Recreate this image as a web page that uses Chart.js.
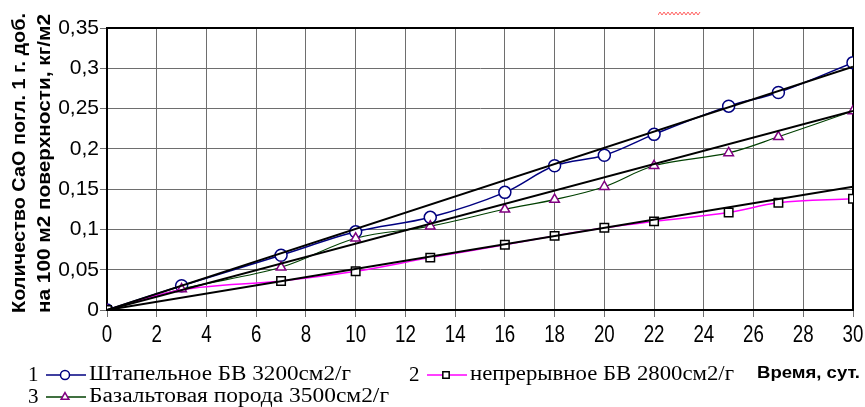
<!DOCTYPE html>
<html>
<head>
<meta charset="utf-8">
<script src="https://cdn.jsdelivr.net/npm/chart.js@4/dist/chart.umd.min.js"></script>
<style>
  body { margin: 0; background: #fff; }
  #wrap { position: relative; width: 865px; height: 407px; }
</style>
</head>
<body>
<div id="wrap">
  <canvas id="myChart" width="865" height="407"></canvas>
  <svg style="position:absolute; left:658px; top:11px;" width="44" height="6"><polyline points="0,4 2,1 4,4 6,1 8,4 10,1 12,4 14,1 16,4 18,1 20,4 22,1 24,4 26,1 28,4 30,1 32,4 34,1 36,4 38,1 40,4 42,1" fill="none" stroke="#ff6060" stroke-width="1"/></svg>
</div>
<script>
// measured days
const days = [0, 3, 7, 10, 13, 16, 18, 20, 22, 25, 27, 30];
const shtapel = [0, 0.030, 0.068, 0.097, 0.115, 0.146, 0.179, 0.192, 0.218, 0.253, 0.270, 0.307];
const nepreryv = [0, 0.025, 0.036, 0.048, 0.065, 0.081, 0.092, 0.102, 0.110, 0.121, 0.133, 0.138];
const bazalt = [0, 0.026, 0.053, 0.089, 0.104, 0.125, 0.137, 0.153, 0.179, 0.195, 0.215, 0.247];

// linear trend lines (through origin)
const trendDays = [0, 30];
const trendShtapel = [0, 0.302];
const trendNepreryv = [0, 0.153];
const trendBazalt = [0, 0.247];

const yTitle = ["Количество СаО погл. 1 г. доб.", "на 100 м2 поверхности, кг/м2"];
const xTitle = "Время, сут.";
const seriesNames = ["Штапельное БВ 3200см2/г", "непрерывное БВ 2800см2/г", "Базальтовая порода 3500см2/г"];

const toPoints = (xs, ys) => xs.map((x, i) => ({ x: x, y: ys[i] }));

const trend = (ys) => ({
  data: toPoints(trendDays, ys),
  borderColor: "#000",
  borderWidth: 2,
  pointRadius: 0,
  tension: 0,
});

// stretch text to a given width
function fillFit(ctx, text, x, y, width) {
  const w = ctx.measureText(text).width;
  ctx.save();
  ctx.translate(x, y);
  ctx.scale(width / w, 1);
  ctx.fillText(text, 0, 0);
  ctx.restore();
}

// y title, x tick labels, legend
const extras = {
  id: "extras",
  afterDraw(chart) {
    const { ctx, scales } = chart;
    ctx.save();
    ctx.fillStyle = "#000";

    // rotated y title
    ctx.font = "bold 18px 'Liberation Sans', Arial, sans-serif";
    ctx.textBaseline = "middle";
    ctx.textAlign = "left";
    ctx.save();
    ctx.translate(20, 313);
    ctx.rotate(-Math.PI / 2);
    fillFit(ctx, yTitle[0], 0, 0, 300);
    fillFit(ctx, yTitle[1], 0, 25, 299);
    ctx.restore();

    // x tick labels (tall narrow)
    ctx.font = "24px 'Liberation Sans', Arial, sans-serif";
    ctx.textAlign = "center";
    scales.x.ticks.forEach((t) => {
      const px = scales.x.getPixelForValue(t.value);
      ctx.save();
      ctx.translate(px, 335);
      ctx.scale(0.78, 1);
      ctx.fillText(String(t.value), 0, 0);
      ctx.restore();
    });

    // legend
    const items = [
      { n: "1", x: 28, y: 375, color: "#000080", mark: "circle", edge: "#000080" },
      { n: "2", x: 409, y: 375, color: "#ff00ff", mark: "rect", edge: "#000" },
      { n: "3", x: 28, y: 397, color: "#004000", mark: "triangle", edge: "#800080" },
    ];
    const textWidth = [262, 264, 300];
    items.forEach((it, i) => {
      ctx.font = "21px 'Liberation Serif', 'Times New Roman', serif";
      ctx.textAlign = "left";
      ctx.fillText(it.n, it.x, it.y);
      ctx.strokeStyle = it.color;
      ctx.lineWidth = 1.5;
      ctx.beginPath();
      ctx.moveTo(it.x + 18, it.y);
      ctx.lineTo(it.x + 58, it.y);
      ctx.stroke();
      ctx.strokeStyle = it.edge;
      ctx.fillStyle = "#fff";
      Chart.helpers.drawPoint(ctx, { pointStyle: it.mark, radius: 4.5, rotation: 0, borderWidth: 1.5 }, it.x + 37, it.y);
      ctx.fillStyle = "#000";
      ctx.font = "20px 'Liberation Serif', 'Times New Roman', serif";
      fillFit(ctx, seriesNames[i], it.x + 61, it.y, textWidth[i]);
    });

    ctx.font = "bold 16px 'Liberation Sans', Arial, sans-serif";
    fillFit(ctx, xTitle, 757, 374, 103);
    ctx.restore();
  },
};

// frame on top and right side
const frame = {
  id: "frame",
  beforeDatasetsDraw(chart) {
    const { ctx, chartArea: { left, top, right, bottom } } = chart;
    ctx.save();
    ctx.strokeStyle = "#000";
    ctx.lineWidth = 2;
    ctx.beginPath();
    ctx.moveTo(left, top);
    ctx.lineTo(right, top);
    ctx.lineTo(right, bottom);
    ctx.stroke();
    ctx.restore();
  },
};

const config = {
  type: "line",
  data: {
    datasets: [
      trend(trendShtapel),
      trend(trendBazalt),
      trend(trendNepreryv),
      {
        data: toPoints(days, nepreryv),
        borderColor: "#ff00ff",
        borderWidth: 1.5,
        pointStyle: "rect",
        pointRadius: (c) => (c.dataIndex === 1 ? 0 : 6),
        pointBackgroundColor: "#fff",
        pointBorderColor: "#000",
        pointBorderWidth: 1.5,
        tension: 0.35,
      },
      {
        data: toPoints(days, bazalt),
        borderColor: "#004000",
        borderWidth: 1.2,
        pointStyle: "triangle",
        pointRadius: 5.5,
        pointBackgroundColor: "#fff",
        pointBorderColor: "#800080",
        pointBorderWidth: 1.5,
        tension: 0.35,
      },
      {
        data: toPoints(days, shtapel),
        borderColor: "#000080",
        borderWidth: 1.5,
        pointStyle: "circle",
        pointRadius: 6,
        pointBackgroundColor: "#fff",
        pointBorderColor: "#000080",
        pointBorderWidth: 1.5,
        tension: 0.35,
      },
    ],
  },
  options: {
    responsive: false,
    animation: false,
    layout: { padding: { left: 0, right: 12, top: 28, bottom: 0 } },
    plugins: {
      legend: { display: false },
      tooltip: { enabled: false },
    },
    scales: {
      x: {
        type: "linear",
        min: 0,
        max: 30,
        ticks: { stepSize: 2, color: "rgba(0,0,0,0)" },
        grid: { color: "#6e6e6e", lineWidth: 1, tickLength: 7 },
        border: { color: "#000", width: 2 },
        afterFit(scale) { scale.height = 97; },
      },
      y: {
        min: 0,
        max: 0.35,
        ticks: {
          stepSize: 0.05,
          padding: 1,
          color: "#000",
          font: { family: "'Liberation Sans', Arial", size: 21 },
          callback: (v) => String(Math.round(v * 100) / 100).replace(".", ","),
        },
        grid: { color: "#6e6e6e", lineWidth: 1, tickLength: 7 },
        border: { color: "#000", width: 2 },
        afterFit(scale) { scale.width = 107; },
      },
    },
  },
  plugins: [frame, extras],
};

const myChart = new Chart(document.getElementById("myChart"), config);
</script>
</body>
</html>
